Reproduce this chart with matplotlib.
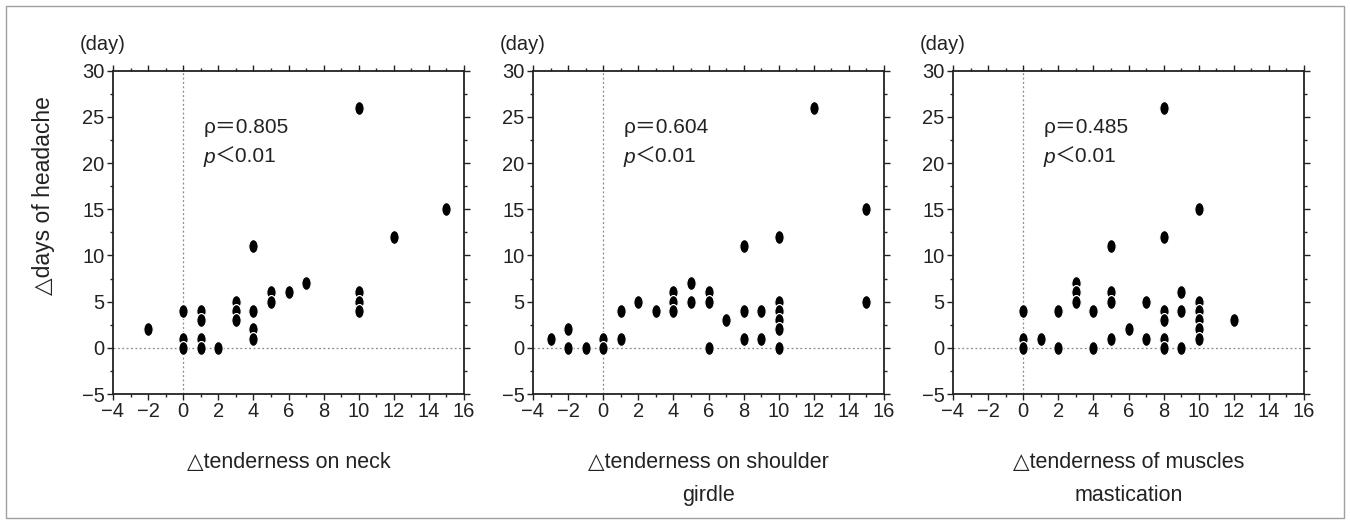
import matplotlib
matplotlib.use("Agg")
from matplotlib import pyplot as plt
from matplotlib.path import Path
from matplotlib.transforms import Affine2D
from matplotlib.patches import Rectangle
from matplotlib.ticker import MultipleLocator

plt.rcParams['font.family'] = ['Liberation Sans', 'DejaVu Sans']
plt.rcParams['axes.unicode_minus'] = True

# data (change in tenderness vs change in headache days)
neck_x = [-2, 0, 0, 0, 1, 1, 1, 1, 2, 3, 3, 3, 4, 4, 4, 4, 5, 5, 6, 7,
          10, 10, 10, 10, 12, 15]
neck_y = [2, 4, 1, 0, 4, 3, 1, 0, 0, 5, 4, 3, 11, 4, 2, 1, 6, 5, 6, 7,
          26, 6, 5, 4, 12, 15]

shoulder_x = [-3, -2, -2, -1, 0, 0, 1, 1, 2, 3, 4, 4, 4, 5, 5, 6, 6, 6, 7,
              8, 8, 8, 9, 9, 10, 10, 10, 10, 10, 10, 12, 15, 15]
shoulder_y = [1, 2, 0, 0, 1, 0, 4, 1, 5, 4, 6, 5, 4, 7, 5, 6, 5, 0, 3,
              11, 4, 1, 4, 1, 12, 5, 4, 3, 2, 0, 26, 15, 5]

mastication_x = [0, 0, 0, 1, 2, 2, 3, 3, 3, 4, 4, 5, 5, 5, 5, 6, 7, 7,
                 8, 8, 8, 8, 8, 8, 9, 9, 9, 10, 10, 10, 10, 10, 10, 12]
mastication_y = [4, 1, 0, 1, 4, 0, 7, 6, 5, 4, 0, 11, 6, 5, 1, 2, 5, 1,
                 26, 12, 4, 3, 1, 0, 6, 4, 0, 15, 5, 4, 3, 2, 1, 3]

panel_x = [neck_x, shoulder_x, mastication_x]
panel_y = [neck_y, shoulder_y, mastication_y]
rho_labels = ['ρ＝0.805', 'ρ＝0.604', 'ρ＝0.485']
x_labels = ['△tenderness on neck',
            '△tenderness on shoulder\ngirdle',
            '△tenderness of muscles\nmastication']

# tall ellipse marker like the printed dots
ellipse = Path.unit_circle().transformed(Affine2D().scale(0.68, 1.0))
ink = '#222222'
jp = ['Liberation Sans', 'Noto Sans CJK JP']

W, H = 1350, 523
fig = plt.figure(figsize=(W / 100, H / 100), dpi=100)
fig.patches.append(Rectangle((6 / W, 5 / H), 1 - 12 / W, 1 - 11 / H,
                             transform=fig.transFigure, fill=False,
                             edgecolor='#a0a0a0', lw=1.0))

lefts = [113, 533, 953]
ax_w, top, bottom = 351, 70.7, 394
for i in range(3):
    ax = fig.add_axes([lefts[i] / W, 1 - bottom / H, ax_w / W, (bottom - top) / H])
    ax.set_xlim(-4, 16)
    ax.set_ylim(-5, 30)
    ax.axhline(0, color='#888888', ls=(0, (1.5, 2)), lw=0.9, zorder=1)
    ax.axvline(0, color='#888888', ls=(0, (1.5, 2)), lw=0.9, zorder=1)
    ax.plot(panel_x[i], panel_y[i], ls='none', marker=ellipse, ms=10,
            mfc='black', mec='white', mew=0.9, zorder=3)

    ax.xaxis.set_major_locator(MultipleLocator(2))
    ax.xaxis.set_minor_locator(MultipleLocator(1))
    ax.yaxis.set_major_locator(MultipleLocator(5))
    ax.yaxis.set_minor_locator(MultipleLocator(2.5))
    ax.tick_params(which='both', direction='out', top=True, right=True,
                   width=1.0, color=ink)
    ax.tick_params(which='major', length=4, labelsize=14.5, pad=2,
                   labelcolor=ink)
    ax.tick_params(which='minor', length=2.5)
    for s in ax.spines.values():
        s.set_linewidth(1.3)
        s.set_color(ink)

    ax.set_xlabel(x_labels[i], fontsize=15.5, labelpad=22, linespacing=1.78,
                  color=ink)
    ax.text(-0.03, 1.08, '(day)', transform=ax.transAxes, fontsize=14.5,
            ha='center', va='center', color=ink)

    ax.text(1.15, 23.8, rho_labels[i], fontsize=15, va='center', color=ink,
            family=jp)
    t = ax.text(1.15, 20.6, 'p', fontsize=15, style='italic', va='center',
                color=ink)
    ax.annotate('＜0.01', xy=(1.0, 0.5), xycoords=t, va='center',
                fontsize=15, color=ink, family=jp)

    if i == 0:
        ax.set_ylabel('△days of headache', fontsize=16.5, color=ink)
        ax.yaxis.set_label_coords(-0.165, 0.615)

fig.savefig('out.png', dpi=100)
